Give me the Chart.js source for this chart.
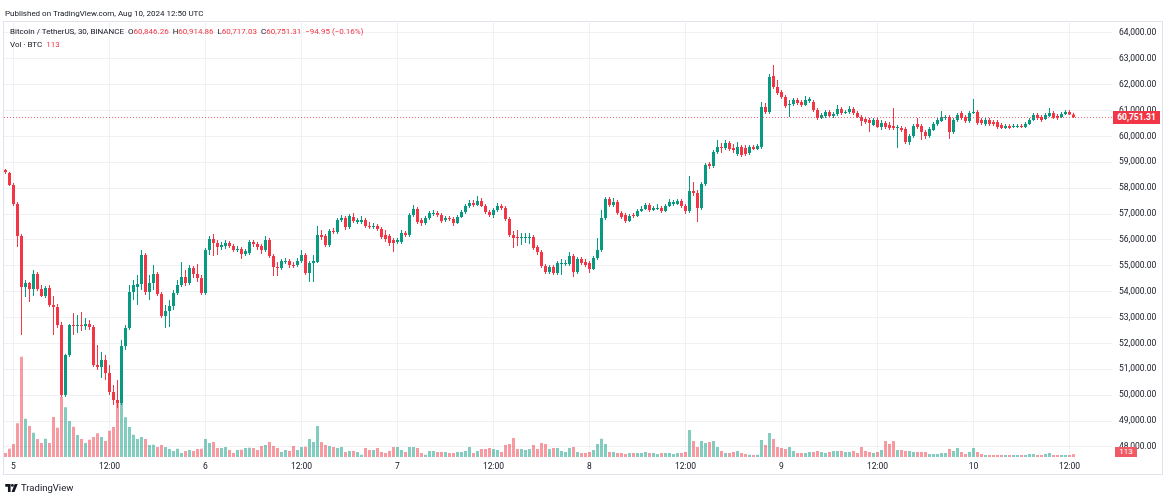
<!DOCTYPE html>
<html>
<head>
<meta charset="utf-8">
<script src="https://cdn.jsdelivr.net/npm/chart.js@4.4.1/dist/chart.umd.min.js"></script>
<style>
  html, body { margin: 0; padding: 0; background: #fff; }
  #wrap { position: relative; width: 1164px; height: 497px; overflow: hidden;
          font-family: Roboto, "Liberation Sans", sans-serif; color: #131722; }
  #frame { position: absolute; left: 3px; top: 21px; width: 1158px; height: 452px; border: 1px solid #e0e3eb; }
  canvas { position: absolute; left: 0; top: 0; }
  .txt { position: absolute; font-size: 8px; line-height: 10px; white-space: nowrap; }
  .red { color: #f23645; }
  .tag { position: absolute; color: #fff; font-size: 8.5px; text-align: center; }
</style>
</head>
<body>
<div id="wrap">
  <div id="frame"></div>
  <canvas id="chart" width="1164" height="497"></canvas>
  <div class="txt" style="left:5px;top:9px;">Published on TradingView.com, Aug 10, 2024 12:50 UTC</div>
  <div class="txt" id="legend1" style="left:10px;top:27px;"></div>
  <div class="txt" id="legend2" style="left:10px;top:40px;"></div>
  <div class="tag" id="priceTag"></div>
  <div class="tag" id="volTag"></div>
  <div class="txt" style="left:5px;top:483px;font-size:9.5px;">
    <svg width="13" height="8" style="vertical-align:-1px;margin-right:3px" viewBox="0 0 14 9">
      <path d="M0 0h6v9H3V3H0z" fill="#131722"/><circle cx="8" cy="1.6" r="1.6" fill="#131722"/><path d="M10.6 0H14L10.4 9H7z" fill="#131722"/>
    </svg>TradingView</div>
</div>
<script>
// ------ Data (BTCUSDT 30m, Binance) ------

// first bar sits 2 slots before Aug 5 00:00 UTC
const slot0 = -2;

const opens = [
  58704,58589,58125,57390,56154,54182,54337,54105,54685,54105,53835,54144,
  53487,53409,52714,50008,51554,52714,52675,52714,52675,52752,52636,51168,
  51091,51361,50859,50124,49815,49699,51902,52598,53989,54182,54298,55419,
  53989,54337,54685,53912,53062,53254,53448,53951,54260,54569,54337,54917,
  54685,54530,53951,55612,56038,55883,55728,55767,55883,55767,55612,55651,
  55458,55497,55922,55844,55767,55612,55999,55381,54955,54917,55149,55187,
  55033,55033,55187,55419,54724,55110,55149,56192,56154,55806,56347,56308,
  56772,56849,56501,56888,56695,56695,56772,56540,56501,56540,56424,56192,
  56154,55999,55922,55922,56270,56192,56965,57197,56772,56656,56849,57004,
  57043,56965,56772,56849,56811,56656,56888,57081,57313,57429,57352,57506,
  57313,57081,56965,57158,57313,57236,56811,56192,56115,56076,56076,56076,
  56115,55728,55535,54994,54762,54955,54724,55071,55071,55071,55381,54762,
  55265,55149,55110,54878,55303,55612,56849,57584,57352,57468,57043,56965,
  56733,56965,56927,57120,57197,57352,57158,57197,57236,57120,57313,57390,
  57390,57506,57313,57120,57893,57816,57236,58164,58936,58859,59400,59593,
  59555,59748,59555,59323,59593,59555,59362,59593,59516,59593,61139,60946,
  62338,61913,61719,61526,61217,61255,61410,61333,61217,61371,61333,61023,
  60714,60792,60946,60792,60869,61062,60908,60946,61062,60908,60753,60676,
  60637,60444,60637,60366,60521,60444,60405,60328,60328,60289,59787,60019,
  60482,60405,60173,60019,60250,60482,60598,60714,60753,60173,60637,60908,
  60753,60598,60908,60946,60637,60482,60637,60560,60560,60444,60328,60405,
  60366,60366,60405,60366,60482,60637,60830,60753,60676,60792,60908,60792,
  60753,60869,60946,60846.26
];
const highs = [
  58743,58627,58202,57468,56231,54453,54376,54839,54762,54260,54221,54260,
  53835,53525,52830,51600,52750,53177,53100,53216,52984,52907,52714,51941,
  51670,51554,51168,50395,50588,52134,52714,54260,54453,54646,55612,55497,
  54646,55033,54762,53989,53487,53680,54066,54453,55149,54839,55033,54994,
  55071,54646,55690,56154,56231,55999,55922,55999,55960,55844,55767,55728,
  55651,55999,55999,55922,55844,56154,56076,55458,55149,55265,55303,55265,
  55149,55303,55612,55497,55187,55419,56540,56385,56231,56424,56463,56849,
  56965,56927,57004,57043,56849,56927,56849,56695,56656,56617,56501,56385,
  56231,56076,56076,56385,56347,57043,57352,57274,56849,56927,57120,57158,
  57120,57043,56927,56927,56888,56965,57158,57390,57545,57545,57700,57622,
  57390,57158,57236,57429,57390,57313,56888,56347,56385,56270,56270,56270,
  56192,55806,55612,55071,55033,55033,55187,55265,55226,55535,55458,55342,
  55342,55265,55187,55381,56076,57158,57661,57661,57622,57545,57120,57043,
  57004,57043,57197,57313,57429,57429,57313,57390,57313,57390,57584,57545,
  57584,57584,57390,58473,58241,57932,58241,58975,59014,59477,59864,59748,
  59864,59825,59709,59787,59671,59671,59671,59671,59709,61333,61294,62415,
  62763,62183,61797,61603,61410,61487,61487,61410,61565,61526,61410,61101,
  60908,61023,61023,60946,61217,61139,61023,61178,61139,60985,60830,60753,
  60714,60714,60714,60637,60598,60560,61101,60444,60405,60366,60096,60482,
  60714,60482,60250,60366,60560,60714,60985,60830,60830,60714,60908,60985,
  60830,60985,61449,61023,60714,60714,60714,60637,60637,60521,60482,60482,
  60482,60482,60482,60560,60714,60908,60908,60830,60908,61101,60985,60869,
  60946,61023,61023,60914.86
];
const lows = [
  58550,58086,57313,55728,52327,53796,53603,53835,54028,53796,53757,53409,
  52327,52598,49931,49931,51477,52327,52404,52482,52520,52520,51091,50975,
  50665,50588,50008,49622,49506,49622,51747,52520,53680,53487,54066,53873,
  53680,54066,53835,52984,52598,52636,53293,53873,54182,54221,54260,54530,
  54376,53873,53873,55419,55381,55419,55612,55651,55690,55535,55535,55265,
  55381,55419,55728,55612,55458,55535,55303,54608,54608,54839,55071,54917,
  54917,54955,55110,54646,54376,54376,55110,55999,55728,55728,56231,56231,
  56695,56385,56424,56656,56617,56617,56463,56424,56424,56347,56038,55922,
  55767,55535,55844,55844,56115,56115,56888,56617,56540,56579,56772,56927,
  56888,56656,56695,56733,56540,56617,56849,57004,57236,57274,57313,57274,
  57004,56888,56849,57081,57158,56733,56115,55690,55767,55806,55883,55844,
  55612,55419,54917,54685,54685,54646,54646,54646,54994,54994,54569,54685,
  55033,54955,54724,54839,55226,55535,56772,57274,57274,56965,56811,56656,
  56695,56849,56888,57081,57158,57081,57120,57158,57043,57081,57274,57313,
  57352,57236,57004,57043,57700,56695,57158,58086,58743,58782,59323,59362,
  59477,59439,59362,59246,59207,59246,59284,59477,59477,59516,60869,60869,
  61835,61603,61449,61101,60753,61178,61217,61139,61178,61294,60946,60637,
  60676,60714,60753,60714,60792,60830,60869,60869,60830,60714,60405,60482,
  60173,60405,60328,60250,60289,60250,60250,59555,60173,59709,59671,59941,
  60289,59864,59903,59941,60212,60405,60560,60637,59903,60096,60560,60637,
  60521,60521,60869,60444,60444,60405,60405,60405,60289,60289,60289,60289,
  60328,60328,60328,60328,60444,60598,60637,60560,60637,60753,60676,60637,
  60714,60830,60830,60717.03
];
const closes = [
  58627,58125,57390,56154,54182,54337,54105,54685,54105,53835,54144,53487,
  53409,52714,50008,51554,52714,52675,52714,52675,52752,52636,51168,51091,
  51361,50859,50124,49815,49699,51902,52598,53989,54260,54298,55419,53989,
  54337,54685,53912,53062,53254,53448,53951,54260,54569,54337,54917,54685,
  54530,53951,55612,56038,55883,55728,55806,55883,55767,55612,55651,55458,
  55574,55922,55844,55728,55612,55999,55381,54955,54917,55187,55187,55033,
  54994,55187,55419,54724,55110,55187,56192,56115,55806,56347,56308,56772,
  56849,56501,56927,56733,56772,56772,56540,56501,56540,56424,56115,56038,
  55883,55883,55999,56270,56192,56965,57197,56695,56656,56849,57043,57043,
  56965,56733,56849,56811,56656,56888,57081,57313,57429,57352,57506,57313,
  57081,56965,57158,57313,57236,56811,56192,56076,56076,56115,56115,56115,
  55690,55535,54994,54762,54955,54724,55110,55110,55110,55381,54762,55265,
  55110,55033,54878,55303,55612,56849,57584,57352,57468,57043,56888,56733,
  56927,56927,57120,57197,57352,57158,57236,57236,57120,57313,57468,57468,
  57506,57313,57120,57893,57816,57236,58164,58898,58859,59400,59593,59555,
  59748,59516,59477,59593,59284,59323,59593,59516,59632,61139,60946,62299,
  61913,61681,61526,61178,61255,61410,61294,61217,61410,61449,61023,60714,
  60830,60946,60792,60869,61062,60908,60946,61062,60908,60753,60598,60560,
  60521,60637,60366,60521,60366,60328,60328,60366,60250,59787,60019,60405,
  60366,60173,60019,60289,60482,60637,60753,60753,60173,60637,60830,60714,
  60598,60908,60946,60521,60521,60637,60482,60482,60366,60328,60405,60328,
  60405,60405,60366,60482,60637,60830,60714,60637,60830,60908,60714,60714,
  60869,60946,60846.26,60751.31
];
// volume in BTC
const volumes = [
  160,330,520,1350,4010,1530,1240,970,720,560,730,560,
  1600,1170,2410,1990,1440,1210,880,720,560,690,800,950,
  800,640,1050,1200,2210,2160,1590,1200,890,720,800,720,
  480,490,400,480,400,320,240,330,160,240,280,240,
  320,330,720,560,600,360,360,400,280,160,280,290,
  360,370,360,280,440,480,600,440,360,200,280,240,
  440,280,400,410,720,600,1240,600,480,440,400,360,
  400,200,240,240,200,90,360,280,280,360,200,160,
  240,400,400,280,200,400,400,360,160,90,240,240,
  200,200,200,160,160,200,200,240,400,160,240,320,
  320,360,320,280,200,480,520,760,320,320,280,320,
  480,320,560,520,320,360,360,240,200,360,400,200,
  160,160,200,280,520,730,520,200,200,160,160,120,
  160,160,160,160,200,160,160,120,160,160,160,120,
  160,160,200,1080,640,400,640,560,600,640,400,240,
  160,160,200,240,160,120,90,80,90,680,480,960,
  720,400,360,320,400,240,160,160,160,200,200,240,
  200,160,200,240,240,240,200,200,240,160,400,240,
  200,160,200,280,640,520,640,280,280,240,240,200,
  200,200,200,120,120,120,160,160,320,240,360,200,
  120,200,360,200,120,80,80,80,80,80,80,80,
  80,80,80,80,120,120,80,80,120,160,80,80,
  80,80,80,113
];

const tickSlots  = [0, 24, 48, 72, 96, 120, 144, 168, 192, 216, 240, 264];
const tickLabels = ['5', '12:00', '6', '12:00', '7', '12:00', '8', '12:00', '9', '12:00', '10', '12:00'];
const priceTicks = [48000, 49000, 50000, 51000, 52000, 53000, 54000, 55000,
                    56000, 57000, 58000, 59000, 60000, 61000, 62000, 63000, 64000];

if (![highs, lows, closes, volumes].every(a => a.length === opens.length)) {
  throw new Error('length mismatch ' + [opens, highs, lows, closes, volumes].map(a => a.length).join(','));
}

// ------ Styles ------

const UP     = '#089981', DOWN   = '#f23645';
const UP_V   = 'rgba(8,153,129,0.5)', DOWN_V = 'rgba(242,54,69,0.5)';
const GRID   = '#f0f1f5';

const fmt = v => v.toLocaleString('en-US', { minimumFractionDigits: 2, maximumFractionDigits: 2 });

const isUp = closes.map((c, i) => c >= opens[i]);
const xs   = opens.map((_, i) => slot0 + i);
const last = opens.length - 1;

// ------ Legend ------

const chg = closes[last] - closes[last - 1];
const pct = chg / closes[last - 1] * 100;
const sgn = v => (v < 0 ? '\u2212' : '+') + Math.abs(v).toFixed(2);
document.getElementById('legend1').innerHTML =
  'Bitcoin / TetherUS, 30, BINANCE&nbsp; ' +
  `O<span class="red">${fmt(opens[last])}</span>&nbsp; ` +
  `H<span class="red">${fmt(highs[last])}</span>&nbsp; ` +
  `L<span class="red">${fmt(lows[last])}</span>&nbsp; ` +
  `C<span class="red">${fmt(closes[last])}</span>&nbsp; ` +
  `<span class="red">${sgn(chg)} (${sgn(pct)}%)</span>`;
document.getElementById('legend2').innerHTML =
  `Vol \u00b7 BTC&nbsp; <span class="red">${volumes[last]}</span>`;

// ------ Overlay: dotted last-price line ------

const priceLine = {
  id: 'priceLine',
  afterDatasetsDraw(chart) {
    const { ctx, chartArea: a, scales } = chart;
    const y = Math.round(scales.y.getPixelForValue(closes[last])) + 0.5;
    ctx.save();
    ctx.strokeStyle = 'rgba(242,54,69,0.75)';
    ctx.lineWidth = 1;
    ctx.setLineDash([1, 2]);
    ctx.beginPath();
    ctx.moveTo(a.left, y);
    ctx.lineTo(a.right, y);
    ctx.stroke();
    ctx.restore();
  }
};

// ------ Chart ------

const barCommon = { grouped: false, borderWidth: 0, inflateAmount: 0 };

const chart = new Chart(document.getElementById('chart'), {
  type: 'bar',
  data: {
    datasets: [
      { ...barCommon, label: 'Bodies', order: 1, barThickness: 3, minBarLength: 1, yAxisID: 'y',
        data: xs.map((x, i) => ({ x, y: [opens[i], closes[i]] })),
        backgroundColor: isUp.map(u => u ? UP : DOWN) },
      { ...barCommon, label: 'Wicks', order: 2, barThickness: 1, yAxisID: 'y',
        data: xs.map((x, i) => ({ x, y: [lows[i], highs[i]] })),
        backgroundColor: isUp.map(u => u ? UP : DOWN) },
      { ...barCommon, label: 'Vol', order: 3, barThickness: 3, yAxisID: 'yv',
        data: xs.map((x, i) => ({ x, y: volumes[i] })),
        backgroundColor: isUp.map(u => u ? UP_V : DOWN_V) }
    ]
  },
  options: {
    responsive: false,
    animation: false,
    devicePixelRatio: 1,
    events: [],
    layout: { padding: { left: 4, right: 2, top: 21, bottom: 23 } },
    plugins: { legend: { display: false }, tooltip: { enabled: false } },
    scales: {
      x: {
        type: 'linear', position: 'bottom', offset: false,
        min: -2.375, max: 274.625,
        afterBuildTicks: s => { s.ticks = tickSlots.map(v => ({ value: v })); },
        afterFit: s => { s.height = 17; },
        grid: { color: GRID, drawTicks: false, offset: false },
        border: { display: false },
        ticks: {
          autoSkip: false, maxRotation: 0, padding: 5,
          color: '#131722', font: { family: 'Roboto', size: 8.5 },
          callback: v => tickLabels[tickSlots.indexOf(v)] ?? ''
        }
      },
      y: {
        type: 'linear', position: 'right',
        min: 47612, max: 64463,
        afterBuildTicks: s => { s.ticks = priceTicks.map(v => ({ value: v })); },
        afterFit: s => { s.width = 50; },
        grid: { color: GRID, drawTicks: false },
        border: { display: false },
        ticks: {
          padding: 7, color: '#131722', font: { family: 'Roboto', size: 8.5 },
          callback: v => fmt(v)
        }
      },
      yv: {
        type: 'linear', display: false,
        min: 0, max: 17440
      }
    }
  },
  plugins: [priceLine]
});

// ------ Axis tags (last price / last volume) ------

const py  = chart.scales.y.getPixelForValue(closes[last]);
const tag = document.getElementById('priceTag');
tag.textContent = fmt(closes[last]);
Object.assign(tag.style, { left: '1113px', top: (py - 6.5) + 'px', width: '47px', height: '13px',
  lineHeight: '13px', background: DOWN, fontWeight: 'bold' });

const vt = document.getElementById('volTag');
vt.textContent = volumes[last];
Object.assign(vt.style, { left: '1115px', top: '447px', width: '22px', height: '10px',
  lineHeight: '10px', background: '#f05a64', fontSize: '8px' });
</script>
</body>
</html>
